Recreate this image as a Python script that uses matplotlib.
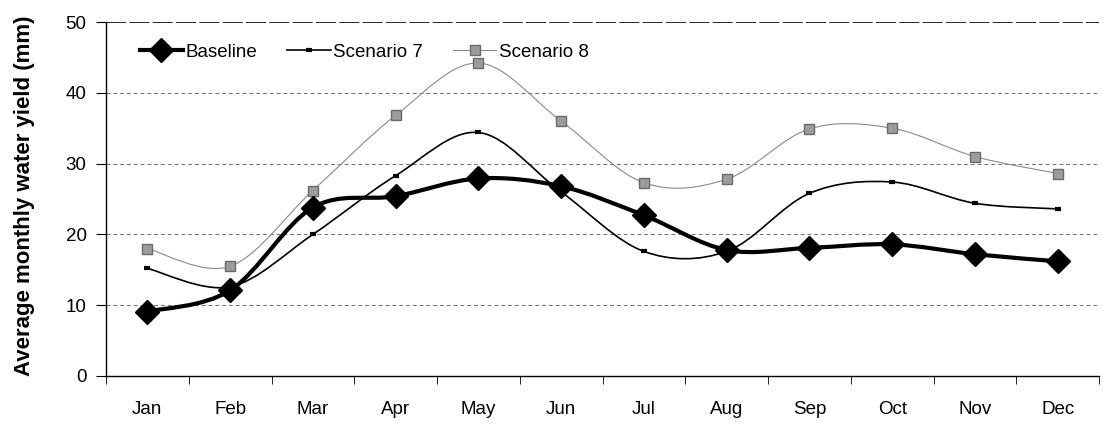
import matplotlib
matplotlib.use("Agg")
import matplotlib.pyplot as plt
from matplotlib.path import Path
from matplotlib.patches import PathPatch
from matplotlib.lines import Line2D
import numpy as np

plt.rcParams['font.family'] = ['Liberation Sans', 'DejaVu Sans']

months = ["Jan", "Feb", "Mar", "Apr", "May", "Jun",
          "Jul", "Aug", "Sep", "Oct", "Nov", "Dec"]
baseline = [9.1, 12.1, 23.8, 25.4, 27.9, 26.8, 22.7, 17.8, 18.1, 18.6, 17.2, 16.2]
scenario7 = [15.2, 12.6, 20.0, 28.3, 34.4, 26.0, 17.6, 17.6, 25.8, 27.4, 24.4, 23.6]
scenario8 = [18.0, 15.5, 26.2, 36.8, 44.2, 36.0, 27.3, 27.8, 34.9, 35.0, 31.0, 28.6]


def smooth_path(x, y):
    # Excel-like smoothed line: cubic Bezier segments through each point
    p = np.column_stack([x, y]).astype(float)
    n = len(p)
    verts = [p[0]]
    codes = [Path.MOVETO]
    for i in range(n - 1):
        p0 = p[i - 1] if i > 0 else p[i]
        p3 = p[i + 2] if i + 2 < n else p[i + 1]
        c1 = p[i] + (p[i + 1] - p0) / 6.0
        c2 = p[i + 1] - (p3 - p[i]) / 6.0
        verts += [c1, c2, p[i + 1]]
        codes += [Path.CURVE4] * 3
    return Path(verts, codes)


fig = plt.figure(figsize=(11.03, 4.25), dpi=100)
ax = fig.add_axes([0.0961, 0.1153, 0.9003, 0.8329])

x = np.arange(len(months))
series = [
    (baseline, dict(color="black", lw=3.0), dict(marker="D", ms=12, mfc="black", mec="black"), "Baseline"),
    (scenario7, dict(color="black", lw=1.2), dict(marker="_", ms=5, mew=3, color="black"), "Scenario 7"),
    (scenario8, dict(color="#8a8a8a", lw=0.8), dict(marker="s", ms=7, mfc="#9c9c9c", mec="#6a6a6a"), "Scenario 8"),
]

handles = []
for vals, lstyle, mstyle, name in series[::-1]:
    ax.add_patch(PathPatch(smooth_path(x, vals), fill=False, zorder=3, **lstyle))
    ax.plot(x, vals, ls="none", zorder=4, **mstyle)
for vals, lstyle, mstyle, name in series:
    handles.append(Line2D([], [], label=name, color=lstyle["color"], lw=lstyle["lw"],
                          **{k: v for k, v in mstyle.items() if k != "color"}))

ax.set_xlim(-0.5, 11.5)
ax.set_ylim(0, 50)
ax.set_yticks([0, 10, 20, 30, 40, 50])
ax.set_xticks(x)
ax.set_xticklabels(months)
ax.set_xticks(np.arange(-0.5, 12, 1), minor=True)
ax.tick_params(axis="x", which="major", length=0, pad=18, labelsize=13.5)
ax.tick_params(axis="x", which="minor", length=6, direction="out")
ax.tick_params(axis="y", length=7, direction="out", pad=7, labelsize=13.5)

for yv in [10, 20, 30, 40]:
    ax.axhline(yv, color="#707070", lw=0.7, ls=(0, (4, 3)), zorder=1)
ax.axhline(50, color="black", lw=1.2, ls=(0, (12, 2)), zorder=1)

ax.spines["top"].set_visible(False)
ax.spines["right"].set_visible(False)
ax.spines["left"].set_linewidth(1.0)
ax.spines["bottom"].set_linewidth(1.0)

ax.set_ylabel("Average monthly water yield (mm)", fontsize=16, fontweight="bold")
ax.yaxis.set_label_coords(-0.071, 0.51)

ax.legend(handles=handles, loc="center left", ncol=3, frameon=False, fontsize=13.5,
          handlelength=2.3, handletextpad=0.15, columnspacing=1.6,
          bbox_to_anchor=(0.017, 0.915))

fig.savefig("out.png", dpi=100)
